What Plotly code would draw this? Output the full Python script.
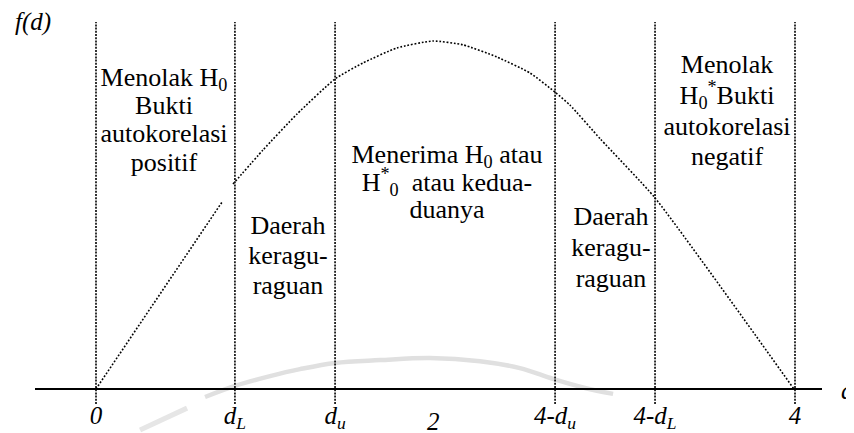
import plotly.graph_objects as go

# ---------------- data ----------------
# boundaries of the Durbin-Watson decision regions (d axis)
boundary_x = [0.0, 0.795, 1.368, 2.627, 3.199, 4.0]
boundary_labels = ["0", "d<sub>L</sub>", "d<sub>u</sub>", "4-d<sub>u</sub>", "4-d<sub>L</sub>", "4"]
mid_x = 1.93
mid_label = "2"

# sketched density curve f(d) (None = gap in the dotted line)
curve_x = [0.0, 0.721, None, 0.784, 0.956, 1.150, 1.368, 1.528, 1.722, 1.928,
           2.100, 2.295, 2.484, 2.627, 2.712, 2.887, 3.199, 3.994]
curve_y = [0.0, 0.537, None, 0.589, 0.687, 0.790, 0.891, 0.937, 0.980, 1.000,
           0.989, 0.954, 0.908, 0.853, 0.816, 0.718, 0.549, 0.0]

# faint scan watermark arc
wm_x = [0.624, 0.795, 0.996, 1.167, 1.368, 1.625, 1.911, 2.197, 2.426, 2.615, 2.798, 2.959]
wm_y = [-0.023, 0.009, 0.037, 0.057, 0.075, 0.083, 0.089, 0.080, 0.060, 0.029, 0.003, -0.014]
wm2_x = [0.252, 0.521]
wm2_y = [-0.118, -0.055]

# region texts
region_lines = [
    ["Menolak H<sub>0</sub>", "Bukti", "autokorelasi", "positif"],
    ["Daerah", "keragu-", "raguan"],
    ["Menerima H<sub>0</sub> atau", "H<sup>*</sup><sub>0</sub>  atau kedua-", "duanya"],
    ["Daerah", "keragu-", "raguan"],
    ["Menolak", "H<sub>0</sub><sup>*</sup>Bukti", "autokorelasi", "negatif"],
]

# ---------------- layout helpers (reference pixel -> data) ----------------
X0_PX, X_SCALE = 96.0, 174.75     # px of d=0, px per unit of d
Y0_PX, Y_SCALE = 389.0, 348.0     # px of f=0, px per unit of f
W, H = 854, 433
PAGE_MARGIN = 8                   # default body margin of the html page


def dx(px):
    return (px - X0_PX) / X_SCALE


def dy(px):
    return (Y0_PX - px) / Y_SCALE


BODY_FS = 26
TICK_FS = 25
FONT = "Liberation Serif"
DOTS = "2px,1.2px"

# text block placement: (center px, first baseline px, line spacing px)
region_place = [(164, 86, 28.2), (288, 234, 30), (447, 163, 27.5), (611, 225, 30.8), (727, 73, 30.8)]

fig = go.Figure()

# watermark
fig.add_trace(go.Scatter(x=wm_x, y=wm_y, mode="lines", line=dict(color="#e0e0e0", width=4.5, shape="spline"),
                         hoverinfo="skip"))
fig.add_trace(go.Scatter(x=wm2_x, y=wm2_y, mode="lines", line=dict(color="#e6e6e6", width=5),
                         hoverinfo="skip"))

# horizontal d axis
fig.add_trace(go.Scatter(x=[dx(35), dx(822)], y=[0, 0], mode="lines",
                         line=dict(color="black", width=2.2), hoverinfo="skip"))

# vertical dotted boundary lines
for bx in boundary_x:
    fig.add_trace(go.Scatter(x=[bx, bx], y=[dy(404), dy(22)], mode="lines",
                             line=dict(color="black", width=1.6, dash=DOTS),
                             hoverinfo="skip"))

# dotted curve
fig.add_trace(go.Scatter(x=curve_x, y=curve_y, mode="lines", connectgaps=False,
                         line=dict(color="black", width=1.6, dash="1.8px,1.8px", shape="spline", smoothing=0.5),
                         hoverinfo="skip"))

# region texts
tx, ty, tt = [], [], []
for lines, (cx, b0, sp) in zip(region_lines, region_place):
    for i, s in enumerate(lines):
        base = b0 + i * sp
        tx.append(dx(cx))
        ty.append(dy(base - 0.25 * BODY_FS))
        tt.append(s)
fig.add_trace(go.Scatter(x=tx, y=ty, text=tt, mode="text", textposition="middle center",
                         textfont=dict(family=FONT, size=BODY_FS, color="black"), hoverinfo="skip"))

# tick labels under the axis
lab_x = boundary_x + [mid_x]
lab_t = ["<i>" + t.replace("<sub>", "<sub><i>").replace("</sub>", "</i></sub>") + "</i>"
         for t in boundary_labels + [mid_label]]
lab_base = [424] * len(boundary_x) + [430]
fig.add_trace(go.Scatter(x=lab_x, y=[dy(b - 0.25 * TICK_FS) for b in lab_base], text=lab_t,
                         mode="text", textposition="middle center",
                         textfont=dict(family=FONT, size=TICK_FS, color="black"), hoverinfo="skip"))

# axis titles
fig.add_trace(go.Scatter(x=[dx(33)], y=[dy(30 - 0.25 * 25)], text=["<i>f(d)</i>"], mode="text",
                         textposition="middle center",
                         textfont=dict(family=FONT, size=25, color="black"), hoverinfo="skip"))
fig.add_trace(go.Scatter(x=[dx(841)], y=[dy(399 - 0.25 * 25)], text=["<i>d</i>"], mode="text",
                         textposition="middle right",
                         textfont=dict(family=FONT, size=25, color="black"), hoverinfo="skip"))

fig.update_layout(
    width=W - PAGE_MARGIN, height=H - PAGE_MARGIN,
    margin=dict(l=0, r=0, t=0, b=0),
    paper_bgcolor="white", plot_bgcolor="white",
    showlegend=False,
    xaxis=dict(visible=False, range=[dx(PAGE_MARGIN), dx(W)], fixedrange=True),
    yaxis=dict(visible=False, range=[dy(H), dy(PAGE_MARGIN)], fixedrange=True),
)

fig.write_html("out.html", config={"displayModeBar": False})
